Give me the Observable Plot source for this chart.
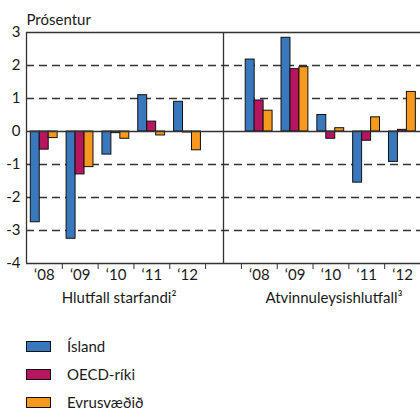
<!DOCTYPE html>
<html>
<head>
<meta charset="utf-8">
<script src="https://cdn.jsdelivr.net/npm/d3@7"></script>
<script src="https://cdn.jsdelivr.net/npm/@observablehq/plot@0.6"></script>
<style>
  html, body { margin: 0; padding: 0; background: #fff; }
  body { width: 420px; height: 410px; overflow: hidden; font-family: Lato, "Open Sans", sans-serif; color: #1a1a1a; }
  #chart svg { display: block; }
  #legend { margin-top: 17px; }
  .item { display: flex; align-items: center; height: 28px; }
  .sw { width: 23px; height: 9px; margin-left: 26px; margin-right: 16px; border: 1px solid #111; }
  .lab { font-size: 15px; }
</style>
</head>
<body>
<div id="chart"></div>
<div id="legend"></div>
<script>
// ---- data ----
const years = ["\u201808", "\u201809", "\u201810", "\u201811", "\u201812"];
const series = ["Ísland", "OECD-ríki", "Evrusvæðið"];
const panels = ["Hlutfall starfandi\u00b2", "Atvinnuleysishlutfall\u00b3"];
const starfandiIsland = [-2.75, -3.25, -0.70, 1.10, 0.90];
const starfandiOecd   = [-0.55, -1.30, -0.05, 0.30, -0.03];
const starfandiEvru   = [-0.20, -1.08, -0.22, -0.12, -0.57];
const atvinnaIsland   = [2.18, 2.84, 0.50, -1.55, -0.92];
const atvinnaOecd     = [0.94, 1.89, -0.22, -0.28, 0.05];
const atvinnaEvru     = [0.63, 1.95, 0.10, 0.43, 1.20];
const yTicks = [3, 2, 1, 0, -1, -2, -3, -4];
const colors = ["#3a78bd", "#b8155f", "#f7981f"];

// ---- build table ----
const panelValues = [
  [starfandiIsland, starfandiOecd, starfandiEvru],
  [atvinnaIsland, atvinnaOecd, atvinnaEvru]
];
const slotsPerPanel = years.length + 1; // one empty slot between panels
const nSlots = slotsPerPanel * panels.length - 1;
const barW = 0.25, groupStart = 0.12;
const rows = [];
panelValues.forEach((vals, p) => {
  vals.forEach((arr, k) => {
    arr.forEach((v, j) => {
      const slot = p * slotsPerPanel + j;
      rows.push({series: series[k], value: v, x1: slot + groupStart + k * barW, x2: slot + groupStart + (k + 1) * barW});
    });
  });
});
const labelPos = [], labelText = [];
panels.forEach((_, p) => years.forEach((y, j) => { labelPos.push(p * slotsPerPanel + j + 0.5); labelText.push(y); }));
const boundaries = d3.range(1, nSlots);
const divider = years.length + 0.5;
const panelCenters = panels.map((_, p) => p * slotsPerPanel + years.length / 2);
const yMax = d3.max(yTicks), yMin = d3.min(yTicks);
const grid = yTicks.filter(t => t !== yMax && t !== yMin && t !== 0);
const labelMap = new Map(labelPos.map((p, i) => [p, labelText[i]]));

const fontFamily = "Lato, 'Open Sans', sans-serif";
const chart = Plot.plot({
  width: 420,
  height: 315,
  marginLeft: 26,
  marginRight: 0,
  marginTop: 32,
  marginBottom: 52,
  style: {fontFamily, fontSize: "15px", color: "#1a1a1a", background: "white"},
  x: {type: "linear", domain: [0, nSlots], axis: null},
  y: {domain: [yMin, yMax], axis: null},
  color: {domain: series, range: colors},
  marks: [
    Plot.ruleY(grid, {stroke: "#333", strokeWidth: 1.3, strokeDasharray: "8,5"}),
    Plot.rectY(rows, {x1: "x1", x2: "x2", y: "value", fill: "series", stroke: "#111", strokeWidth: 1}),
    Plot.ruleY([yMax, 0, yMin], {stroke: "#333", strokeWidth: 1.3}),
    Plot.ruleX([0, divider], {stroke: "#333", strokeWidth: 1.3}),
    Plot.axisY({ticks: yTicks, tickSize: 0, tickPadding: 6, tickFormat: d => `${d}`, fontSize: 15, label: null}),
    Plot.axisX({ticks: boundaries, tickSize: 6, tickFormat: () => "", stroke: "#333", label: null}),
    Plot.axisX({ticks: labelPos, tickSize: 0, tickPadding: 6, tickFormat: d => labelMap.get(d), fontSize: 15, label: null}),
    Plot.text(panels, {x: (d, i) => panelCenters[i], frameAnchor: "bottom", dy: 39, dx: 3, text: d => d, fontSize: 15}),
    Plot.text(["Prósentur"], {frameAnchor: "top-left", dy: -18, textAnchor: "start", text: d => d, fontSize: 15})
  ]
});
document.getElementById("chart").appendChild(chart);

const legend = document.getElementById("legend");
series.forEach((s, i) => {
  const item = document.createElement("div");
  item.className = "item";
  const sw = document.createElement("div");
  sw.className = "sw";
  sw.style.background = colors[i];
  const lab = document.createElement("span");
  lab.className = "lab";
  lab.textContent = s;
  item.appendChild(sw);
  item.appendChild(lab);
  legend.appendChild(item);
});
</script>
</body>
</html>
